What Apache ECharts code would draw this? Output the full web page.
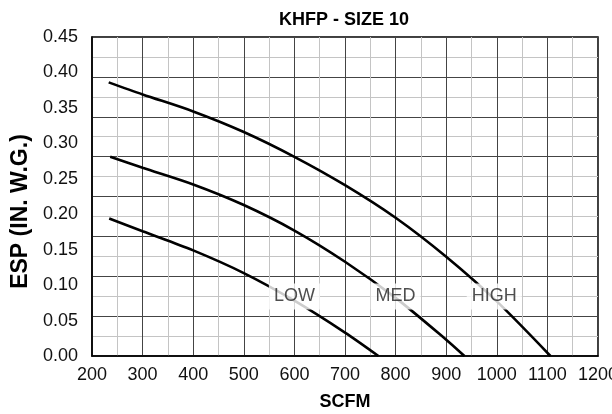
<!DOCTYPE html>
<html>
<head>
<meta charset="utf-8">
<script src="https://cdn.jsdelivr.net/npm/echarts@6/dist/echarts.min.js"></script>
<style>
html,body{margin:0;padding:0;background:#fff;}
#c{width:612px;height:414px;}
</style>
</head>
<body>
<div id="c"></div>
<script>
// Data
var titleText = 'KHFP - SIZE 10';
var xName = 'SCFM';
var yName = 'ESP (IN. W.G.)';

var highX = [233, 300, 400, 500, 600, 700, 800, 900, 1000, 1106];
var highY = [0.386, 0.369, 0.345, 0.316, 0.281, 0.241, 0.195, 0.140, 0.077, 0.000];

var medX = [236, 300, 400, 500, 600, 700, 800, 900, 936];
var medY = [0.281, 0.2655, 0.242, 0.213, 0.177, 0.133, 0.082, 0.023, 0.000];

var lowX = [234, 300, 400, 500, 600, 700, 766];
var lowY = [0.194, 0.176, 0.149, 0.117, 0.078, 0.033, 0.000];

var labelNames = ['LOW', 'MED', 'HIGH'];
var labelX = [600, 800, 995];
var labelY = [0.084, 0.084, 0.084];

function pairs(xs, ys) { return xs.map(function (x, i) { return [x, ys[i]]; }); }

var chart = echarts.init(document.getElementById('c'), null, {renderer: 'canvas'});
var FONT = 'Liberation Sans, Arial, sans-serif';
var lineStyle = {color: '#000', width: 2.6};

chart.setOption({
  animation: false,
  backgroundColor: '#fff',
  title: {
    text: titleText,
    left: 339,
    top: 6,
    textAlign: 'center',
    textStyle: {fontFamily: FONT, fontSize: 18, fontWeight: 'bold', color: '#000'}
  },
  grid: {left: 92, top: 37, width: 506, height: 319, show: true, borderColor: '#000', borderWidth: 1.5,
    containLabel: false, outerBoundsMode: 'none'},
  xAxis: {
    type: 'value', min: 200, max: 1200, interval: 100,
    name: xName, nameLocation: 'middle', nameGap: 37,
    nameTextStyle: {fontFamily: FONT, fontSize: 18, fontWeight: 'bold', color: '#000'},
    axisLine: {show: true, lineStyle: {color: '#000', width: 1.5}},
    axisTick: {show: false},
    axisLabel: {fontFamily: FONT, fontSize: 18, color: '#111', margin: 10,
      formatter: function (v) { return String(v); }},
    splitLine: {show: true, lineStyle: {color: '#444', width: 1}},
    minorTick: {show: false, splitNumber: 2},
    minorSplitLine: {show: true, lineStyle: {color: '#c4c4c4', width: 1}}
  },
  yAxis: [{
    type: 'value', min: 0, max: 0.45, interval: 0.05,
    name: yName, nameLocation: 'middle', nameGap: 56,
    nameTextStyle: {fontFamily: FONT, fontSize: 23, fontWeight: 'bold', color: '#000', padding: [0, 30, 0, 0]},
    axisLine: {show: true, lineStyle: {color: '#000', width: 1.5}},
    axisTick: {show: false},
    axisLabel: {fontFamily: FONT, fontSize: 18, color: '#111', margin: 14,
      formatter: function (v) { return v.toFixed(2); }},
    splitLine: {show: false}
  }, {
    type: 'value', min: 0, max: 8, interval: 1, position: 'left',
    axisLine: {show: false}, axisTick: {show: false}, axisLabel: {show: false},
    splitLine: {show: true, lineStyle: {color: '#444', width: 1}},
    minorTick: {show: false, splitNumber: 2},
    minorSplitLine: {show: true, lineStyle: {color: '#c4c4c4', width: 1}}
  }],
  series: [
    {type: 'line', name: 'HIGH', data: pairs(highX, highY), smooth: 0.3, showSymbol: false, symbol: 'none', lineStyle: lineStyle, z: 2},
    {type: 'line', name: 'MED', data: pairs(medX, medY), smooth: 0.3, showSymbol: false, symbol: 'none', lineStyle: lineStyle, z: 2},
    {type: 'line', name: 'LOW', data: pairs(lowX, lowY), smooth: 0.3, showSymbol: false, symbol: 'none', lineStyle: lineStyle, z: 2},
    {type: 'scatter', z: 5, symbolSize: 0,
      data: labelNames.map(function (n, i) { return {name: n, value: [labelX[i], labelY[i]]}; }),
      label: {show: true, position: 'inside', formatter: '{b}', fontFamily: FONT, fontSize: 18, color: '#222',
        backgroundColor: '#fff', padding: [4, 5]}
    }
  ]
});
</script>
</body>
</html>
